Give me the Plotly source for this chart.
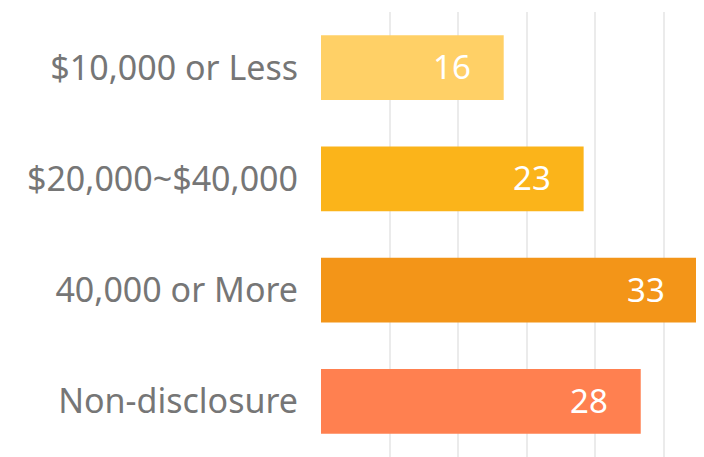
import plotly.graph_objects as go

# DATA
categories = ["$10,000 or Less", "$20,000~$40,000", "40,000 or More", "Non-disclosure"]
values = [16, 23, 33, 28]
bar_colors = ["#FFD066", "#FBB41A", "#F39518", "#FF8050"]

fig = go.Figure()
fig.add_trace(go.Bar(
    y=categories, x=values, orientation="h",
    marker=dict(color=bar_colors, line_width=0),
    hoverinfo="x+y",
))

# value labels inside the bar end
for cat, val in zip(categories, values):
    fig.add_annotation(x=val, y=cat, text=str(val), showarrow=False,
                       xanchor="right", xshift=-31, yshift=1,
                       font=dict(size=33, color="white", family="Noto Sans"))

# page body has an 8px margin, so the figure is sized/offset to compensate
fig.update_layout(
    width=696, height=449,
    margin=dict(l=313, r=0, t=4, b=0),
    plot_bgcolor="white", paper_bgcolor="white",
    bargap=0.416,
    showlegend=False,
    font=dict(family="Noto Sans", color="#767676"),
)
fig.update_xaxes(range=[0, 33.54], dtick=6, tick0=0, showticklabels=False,
                 showgrid=True, gridcolor="#EBEBEB", gridwidth=2,
                 zeroline=False, showline=False)
fig.update_yaxes(autorange="reversed", showgrid=False, showline=False,
                 tickfont=dict(size=34, color="#767676"), ticklabelstandoff=22)

fig.write_html("out.html")
